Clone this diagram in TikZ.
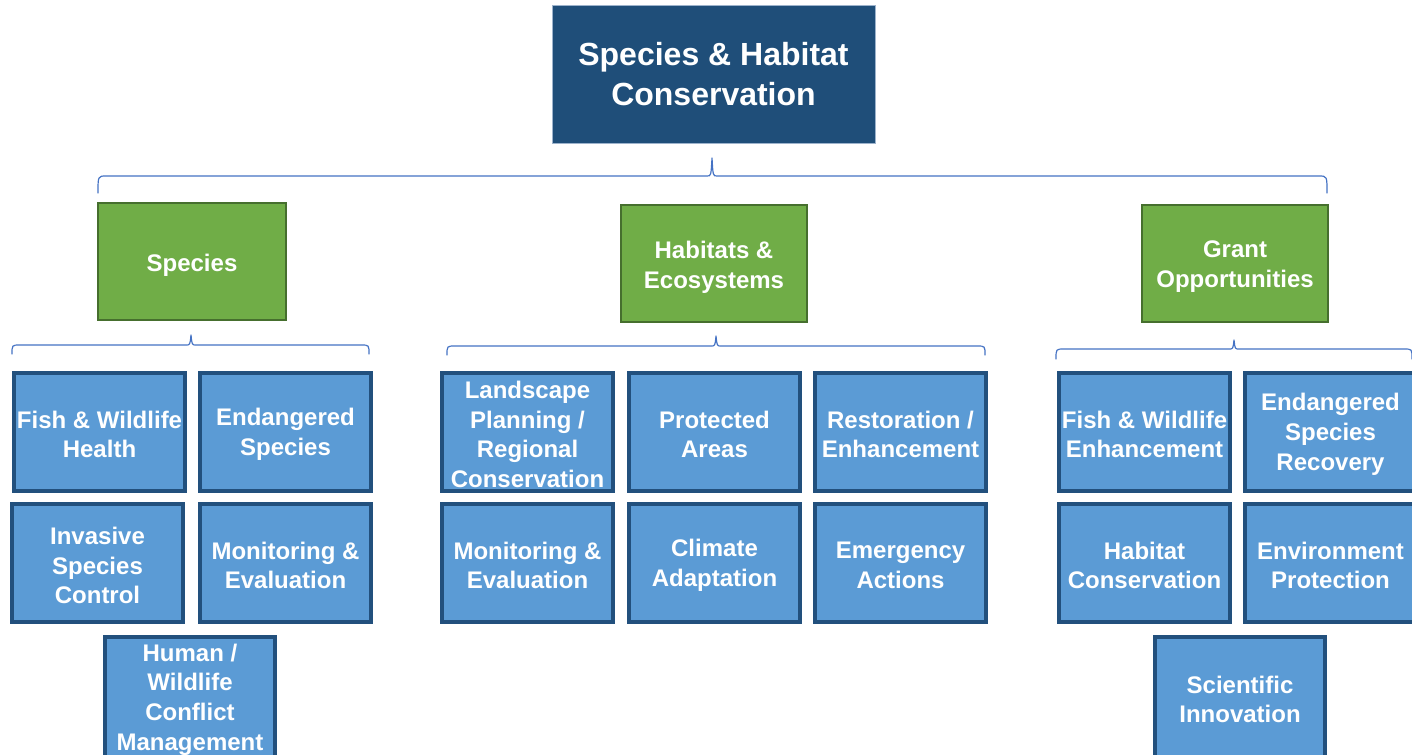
\documentclass[tikz,border=0pt]{standalone}
\usepackage{fontspec}
\setmainfont{Liberation Sans}
\usetikzlibrary{positioning}
\definecolor{topblue}{HTML}{1F4E79}
\definecolor{topedge}{HTML}{9DB3CC}
\definecolor{grn}{HTML}{70AD47}
\definecolor{grnedge}{HTML}{466F2E}
\definecolor{lblue}{HTML}{5B9BD5}
\definecolor{ledge}{HTML}{22507D}
\definecolor{brc}{HTML}{4472C4}
\tikzset{
  topbox/.style={draw=topedge, line width=0.6pt, fill=topblue, inner sep=0pt},
  toptext/.style={text=white, font=\bfseries\fontsize{24}{30}\selectfont, align=center, inner sep=0pt},
  grnbox/.style={draw=grnedge, line width=1.5pt, fill=grn, inner sep=0pt},
  grntext/.style={text=white, font=\bfseries\fontsize{18}{22.5}\selectfont, align=center, inner sep=0pt},
  bluebox/.style={draw=ledge, line width=3pt, fill=lblue, inner sep=0pt},
  bluetext/.style={text=white, font=\bfseries\fontsize{18}{22.3}\selectfont, align=center, inner sep=0pt},
  brline/.style={draw=brc, line width=0.9pt, line cap=round, line join=round},
}
% box: name, x1, y1, x2, y2, style, text style, text yshift(px), text
\newcommand{\bx}[9]{%
  \node[#6, minimum width={(#4-#2)*0.75pt}, minimum height={(#5-#3)*0.75pt}]
    (#1) at ({(#2+#4)/2},{(#3+#5)/2}) {};
  \node[#7] (#1t) at ([yshift={-#8*0.75pt}]#1.center) {#9};}
% brace: name, x1, xmid, x2, ytip, yline, yend
\newcommand{\brc}[7]{%
  \coordinate (#1l) at (#2,#7);
  \coordinate (#1r) at (#4,#7);
  \coordinate (#1m) at (#3,#5);
  \draw[brline] (#1l) .. controls (#2,#6) .. (#2+8,#6) -- (#3-5,#6)
     .. controls (#3-1,#6) .. (#1m) .. controls (#3+1,#6) .. (#3+5,#6)
     -- (#4-8,#6) .. controls (#4,#6) .. (#1r);}
\begin{document}
\begin{tikzpicture}[x=0.75pt,y=-0.75pt]
\clip (0,0) rectangle (1412,754);
\fill[white] (0,0) rectangle (1412,754);

\bx{root}{552}{5}{875}{143}{topbox}{toptext}{0}{Species \& Habitat\\Conservation}

\brc{tb}{98}{712}{1327}{158}{176}{193}

\bx{sp}{98}{203}{286}{320}{grnbox}{grntext}{3.5}{Species}
\bx{hab}{621}{205}{807}{322}{grnbox}{grntext}{3.5}{Habitats \&\\Ecosystems}
\bx{gr}{1142}{205}{1328}{322}{grnbox}{grntext}{3.5}{Grant\\Opportunities}

\brc{bs}{12}{191}{369}{335}{345}{354}
\brc{bh}{447}{716}{985}{336}{346}{355}
\brc{bg}{1056}{1234}{1412}{340}{349}{359}

% Species
\bx{s1}{14}{373}{185}{491}{bluebox}{bluetext}{2.5}{Fish \& Wildlife\\Health}
\bx{s2}{200}{373}{371}{491}{bluebox}{bluetext}{2.5}{Endangered\\Species}
\bx{s3}{12}{504}{183}{622}{bluebox}{bluetext}{2.5}{Invasive\\Species\\Control}
\bx{s4}{200}{504}{371}{622}{bluebox}{bluetext}{2.5}{Monitoring \&\\Evaluation}
\bx{s5}{105}{637}{275}{757}{bluebox}{bluetext}{2.5}{Human /\\Wildlife\\Conflict\\Management}

% Habitats
\bx{h1}{442}{373}{613}{491}{bluebox}{bluetext}{2.5}{Landscape\\Planning /\\Regional\\Conservation}
\bx{h2}{629}{373}{800}{491}{bluebox}{bluetext}{2.5}{Protected\\Areas}
\bx{h3}{815}{373}{986}{491}{bluebox}{bluetext}{2.5}{Restoration /\\Enhancement}
\bx{h4}{442}{504}{613}{622}{bluebox}{bluetext}{2.5}{Monitoring \&\\Evaluation}
\bx{h5}{629}{504}{800}{622}{bluebox}{bluetext}{2.5}{Climate\\Adaptation}
\bx{h6}{815}{504}{986}{622}{bluebox}{bluetext}{2.5}{Emergency\\Actions}

% Grants
\bx{g1}{1059}{373}{1230}{491}{bluebox}{bluetext}{2.5}{Fish \& Wildlife\\Enhancement}
\bx{g2}{1245}{373}{1416}{491}{bluebox}{bluetext}{2.5}{Endangered\\Species\\Recovery}
\bx{g3}{1059}{504}{1230}{622}{bluebox}{bluetext}{2.5}{Habitat\\Conservation}
\bx{g4}{1245}{504}{1416}{622}{bluebox}{bluetext}{2.5}{Environment\\Protection}
\bx{g5}{1155}{637}{1325}{757}{bluebox}{bluetext}{2.5}{Scientific\\Innovation}
\end{tikzpicture}
\end{document}
